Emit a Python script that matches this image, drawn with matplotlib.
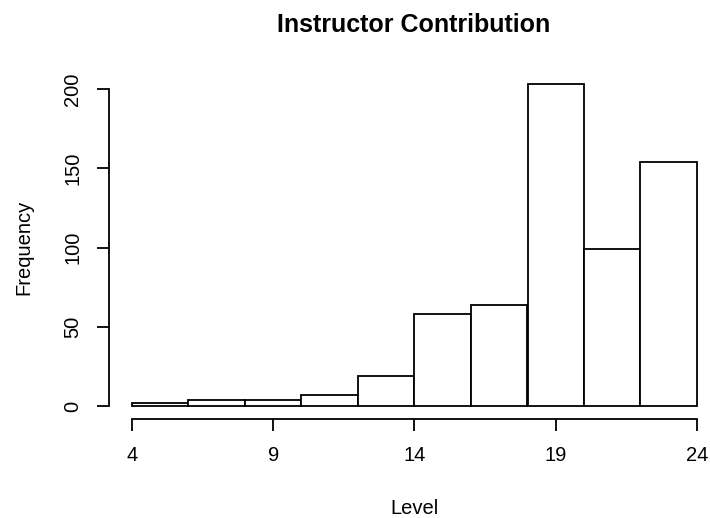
import numpy as np
import matplotlib
matplotlib.use("Agg")
import matplotlib.pyplot as plt

plt.rcParams['font.family'] = ['Liberation Sans', 'DejaVu Sans']

# histogram of instructor contribution levels
bin_edges = [4, 6, 8, 10, 12, 14, 16, 18, 20, 22, 24]
counts = [2, 4, 4, 7, 19, 58, 64, 203, 99, 154]
x_ticks = [4, 9, 14, 19, 24]
y_ticks = [0, 50, 100, 150, 200]

W, H = 710, 518
fig = plt.figure(figsize=(W / 100, H / 100), dpi=100)

# R-style plot region: 4% padding on both axes
x0, x1 = 3.2, 24.8
y0, y1 = -0.04 * 203, 203 * 1.04
px_left, px_right = 109.4, 719.6
px_top, px_bottom = 71.4, 418.9
ax = fig.add_axes([px_left / W, 1 - px_bottom / H,
                   (px_right - px_left) / W, (px_bottom - px_top) / H])

widths = np.diff(bin_edges)
ax.bar(bin_edges[:-1], counts, width=widths, align='edge',
       facecolor='white', edgecolor='black', linewidth=1.3)

ax.set_xlim(x0, x1)
ax.set_ylim(y0, y1)
for s in ['top', 'right']:
    ax.spines[s].set_visible(False)
ax.spines['left'].set_bounds(0, 200)
ax.spines['bottom'].set_bounds(4, 24)
for s in ['left', 'bottom']:
    ax.spines[s].set_linewidth(1.3)

fs = 14.5
ax.set_xticks(x_ticks)
ax.set_yticks(y_ticks)
ax.set_xticklabels([str(v) for v in x_ticks], fontsize=fs)
ax.set_yticklabels([str(v) for v in y_ticks], fontsize=fs,
                   rotation=90, va='center')
ax.tick_params(axis='both', direction='out', length=8.5, width=1.3)
ax.tick_params(axis='x', pad=11)
ax.tick_params(axis='y', pad=11)

fig.text(414 / W, 1 - 25 / H, "Instructor Contribution", fontsize=18,
         fontweight='bold', ha='center', va='center')
fig.text(24 / W, 1 - 247 / H, "Frequency", fontsize=fs, rotation=90,
         ha='center', va='center')
fig.text(414 / W, 1 - 508 / H, "Level", fontsize=fs,
         ha='center', va='center')

fig.savefig("out.png", dpi=100)
